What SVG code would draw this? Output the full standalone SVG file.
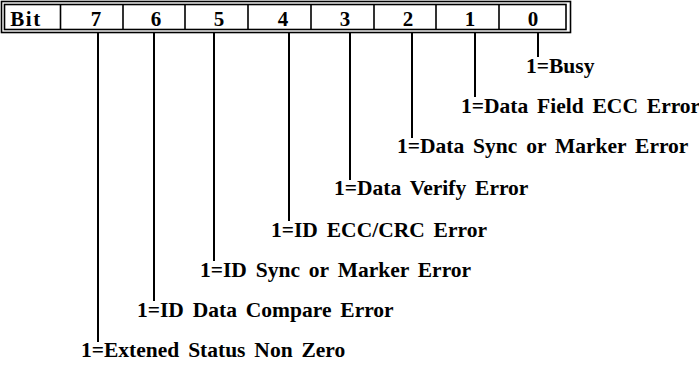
<svg xmlns="http://www.w3.org/2000/svg" width="699" height="365" viewBox="0 0 699 365">
<style>
.t{font-family:'Liberation Serif','Times New Roman',serif;font-weight:700;font-size:21.5px;fill:#000;word-spacing:3.5px;}
.hd{font-family:'Liberation Serif','Times New Roman',serif;font-weight:700;font-size:21px;fill:#000;text-anchor:middle;}
.c{stroke:#000;stroke-width:1.6;fill:none;}
.ld{stroke:#000;stroke-width:2;fill:none;}
</style>
<rect width="699" height="365" fill="#fff"/>
<g id="register">
<rect x="1.5" y="1.5" width="569" height="31" class="c"/>
<rect x="4.5" y="4.5" width="561.5" height="25" class="c" stroke-width="2"/>
<path d="M60.5 4.5V29.5M123 4.5V29.5M185 4.5V29.5M248 4.5V29.5M311 4.5V29.5M374 4.5V29.5M436 4.5V29.5M499 4.5V29.5" class="c"/>
<text x="26" y="26" class="hd" letter-spacing="1.5">Bit</text>
<text x="96" y="26" class="hd">7</text>
<text x="156" y="26" class="hd">6</text>
<text x="219" y="26" class="hd">5</text>
<text x="283" y="26" class="hd">4</text>
<text x="345" y="26" class="hd">3</text>
<text x="408" y="26" class="hd">2</text>
<text x="470" y="26" class="hd">1</text>
<text x="533" y="26" class="hd">0</text>
</g>
<g id="connectors">
<path d="M538 33V57M475 33V97M412 33V138M350 33V180M289 33V221M214 33V261M154 33V301M98 33V342" class="ld"/>
</g>
<g id="bit0"><text x="526" y="73" class="t">1=Busy</text></g>
<g id="bit1"><text x="461" y="113" class="t">1=Data Field ECC Error</text></g>
<g id="bit2"><text x="397" y="153" class="t">1=Data Sync or Marker Error</text></g>
<g id="bit3"><text x="334" y="195" class="t">1=Data Verify Error</text></g>
<g id="bit4"><text x="271" y="237" class="t">1=ID ECC/CRC Error</text></g>
<g id="bit5"><text x="200" y="277" class="t">1=ID Sync or Marker Error</text></g>
<g id="bit6"><text x="137" y="317" class="t">1=ID Data Compare Error</text></g>
<g id="bit7"><text x="81" y="357" class="t">1=Extened Status Non Zero</text></g>
</svg>
